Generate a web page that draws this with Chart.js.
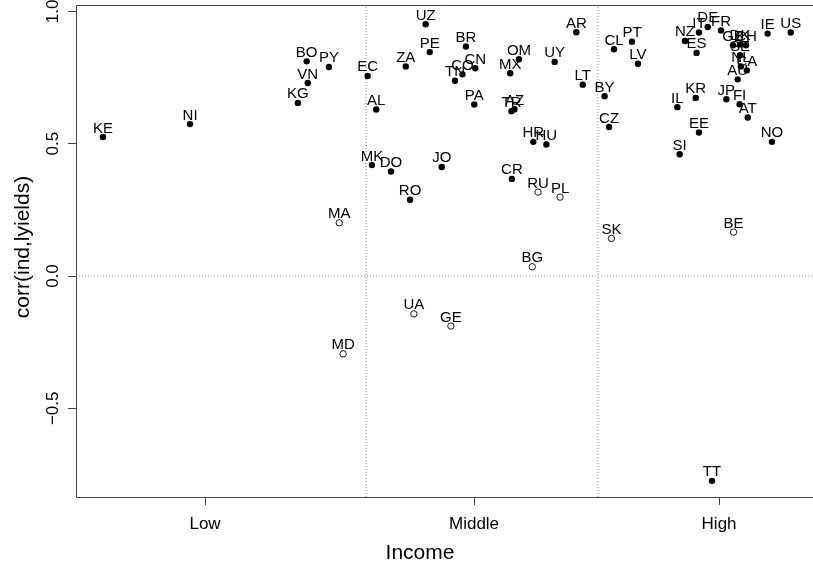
<!DOCTYPE html>
<html>
<head>
<meta charset="utf-8">
<script src="https://cdn.jsdelivr.net/npm/chart.js@4.4.0/dist/chart.umd.min.js"></script>
<style>
html,body{margin:0;padding:0;background:#fff;}
#wrap{width:813px;height:572px;}
</style>
</head>
<body>
<div id="wrap"><canvas id="mycanvas" width="813" height="572"></canvas></div>
<script>
// country codes, income position (log scale), correlation, 1 = filled dot / 0 = open
var codes  = ["KE","NI","KG","BO","PY","VN","MA","MD","EC","AL","MK","DO","ZA","RO","UA","UZ","PE","JO","GE","TN","CO","BR","PA","CN","MX","CR","TR","AZ","OM","BG","HR","RU","HU","UY","PL","AR","LT","BY","CZ","SK","CL","PT","LV","IL","SI","NZ","KR","ES","IT","EE","DE","TT","FR","JP","GB","BE","AU","FI","DK","SE","NL","CH","CA","AT","IE","NO","US"];
var income = [1.791,2.198,2.702,2.743,2.847,2.748,2.895,2.913,3.028,3.068,3.048,3.137,3.206,3.226,3.244,3.299,3.318,3.374,3.417,3.436,3.471,3.487,3.526,3.531,3.694,3.702,3.700,3.714,3.735,3.797,3.802,3.824,3.863,3.902,3.927,4.003,4.033,4.135,4.156,4.167,4.179,4.263,4.291,4.475,4.486,4.511,4.561,4.565,4.576,4.576,4.617,4.637,4.679,4.704,4.735,4.738,4.757,4.766,4.768,4.768,4.772,4.796,4.800,4.804,4.897,4.917,5.005];
var corr   = [0.525,0.574,0.654,0.811,0.790,0.729,0.201,-0.294,0.756,0.629,0.419,0.395,0.792,0.288,-0.143,0.951,0.846,0.412,-0.189,0.738,0.762,0.867,0.648,0.785,0.766,0.367,0.623,0.630,0.819,0.035,0.507,0.317,0.497,0.809,0.298,0.921,0.723,0.679,0.563,0.142,0.857,0.885,0.802,0.638,0.460,0.888,0.673,0.843,0.920,0.542,0.941,-0.774,0.928,0.668,0.872,0.166,0.743,0.649,0.875,0.834,0.792,0.872,0.777,0.599,0.916,0.507,0.920];
var solid  = [1,1,1,1,1,1,0,0,1,1,1,1,1,1,0,1,1,1,0,1,1,1,1,1,1,1,1,1,1,0,1,0,1,1,0,1,1,1,1,0,1,1,1,1,1,1,1,1,1,1,1,1,1,1,1,0,1,1,1,1,1,1,1,1,1,1,1];

var incomeTicks = [2.268, 3.525, 4.67];
var incomeNames = ["Low","Middle","High"];
var thresholds  = [3.02, 4.104];
var corrTicks   = [-0.5, 0, 0.5, 1];
var xMin = 1.665, xMax = 5.109, yMin = -0.835, yMax = 1.024;

var filled = [], hollow = [];
for (var i in codes) {
  var p = {x: income[i], y: corr[i], code: codes[i]};
  if (solid[i]) filled.push(p); else hollow.push(p);
}

var FONT = "'Liberation Sans', Arial, Helvetica, sans-serif";

var extras = {
  id: 'extras',
  afterDatasetsDraw: function(chart) {
    var ctx = chart.ctx, a = chart.chartArea;
    ctx.save();
    // country labels above each point
    ctx.fillStyle = '#000';
    ctx.font = '15px ' + FONT;
    ctx.textAlign = 'center';
    ctx.textBaseline = 'alphabetic';
    [0, 1].forEach(function(di) {
      var meta = chart.getDatasetMeta(di);
      var ds = chart.data.datasets[di].data;
      meta.data.forEach(function(el, k) {
        ctx.fillText(ds[k].code, el.x, el.y - 4.5);
      });
    });
    // box
    ctx.strokeStyle = '#444';
    ctx.lineWidth = 1;
    ctx.beginPath();
    ctx.moveTo(813, a.top + 0.5);
    ctx.lineTo(a.left + 0.5, a.top + 0.5);
    ctx.lineTo(a.left + 0.5, a.bottom + 0.5);
    ctx.lineTo(813, a.bottom + 0.5);
    ctx.stroke();
    // y tick labels, rotated like R
    var ys = chart.scales.y;
    ctx.font = '17px ' + FONT;
    ctx.textBaseline = 'middle';
    corrTicks.forEach(function(v) {
      ctx.save();
      ctx.translate(53, ys.getPixelForValue(v));
      ctx.rotate(-Math.PI / 2);
      ctx.fillText(v.toFixed(1).replace('-', '\u2212'), 0, 0);
      ctx.restore();
    });
    // axis titles
    ctx.font = '21px ' + FONT;
    ctx.fillText('Income', 420, 553);
    ctx.save();
    ctx.translate(23, 247);
    ctx.rotate(-Math.PI / 2);
    ctx.fillText('corr(ind,lyields)', 0, 0);
    ctx.restore();
    ctx.restore();
  }
};

var dotted = {borderColor: '#888', borderWidth: 1, borderDash: [1, 2], pointRadius: 0, showLine: true, fill: false, order: 3};

var datasets = [
  {data: filled, backgroundColor: '#000', borderColor: '#000', pointRadius: 3.2, borderWidth: 0, order: 1},
  {data: hollow, backgroundColor: '#fff', borderColor: '#000', pointRadius: 3.2, borderWidth: 0.9, order: 1},
  Object.assign({data: [{x: xMin, y: 0}, {x: xMax, y: 0}]}, dotted)
];
thresholds.forEach(function(t) {
  datasets.push(Object.assign({data: [{x: t, y: yMin}, {x: t, y: yMax}]}, dotted));
});

new Chart(document.getElementById('mycanvas'), {
  type: 'scatter',
  data: {datasets: datasets},
  options: {
    responsive: false,
    animation: false,
    layout: {autoPadding: false, padding: {left: 0, right: 0, top: 5, bottom: 0}},
    plugins: {legend: {display: false}, tooltip: {enabled: false}},
    scales: {
      x: {
        type: 'linear', min: xMin, max: xMax,
        afterBuildTicks: function(s) { s.ticks = incomeTicks.map(function(v) { return {value: v}; }); },
        afterFit: function(s) { s.height = 75; s.paddingLeft = 0; s.paddingRight = 0; },
        ticks: {
          autoSkip: false, maxRotation: 0, padding: 9, color: '#000',
          font: {size: 17, family: FONT},
          callback: function(v, idx) { return incomeNames[idx]; }
        },
        grid: {drawOnChartArea: false, drawTicks: true, tickLength: 8, color: '#444'},
        border: {display: false}
      },
      y: {
        type: 'linear', min: yMin, max: yMax,
        afterBuildTicks: function(s) { s.ticks = corrTicks.map(function(v) { return {value: v}; }); },
        afterFit: function(s) { s.width = 76; },
        ticks: {display: false},
        grid: {drawOnChartArea: false, drawTicks: true, tickLength: 8, color: '#444'},
        border: {display: false}
      }
    }
  },
  plugins: [extras]
});
</script>
</body>
</html>
